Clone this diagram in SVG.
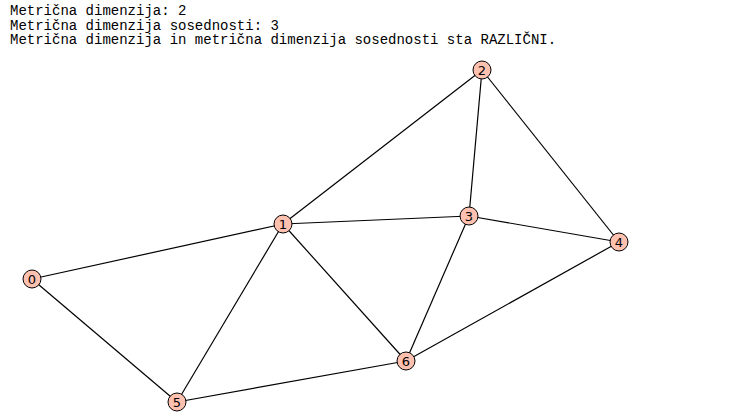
<svg xmlns="http://www.w3.org/2000/svg" width="748" height="416" viewBox="0 0 748 416">
<style>
.t{font-family:"Liberation Mono","Courier New",monospace;font-size:14px;fill:#000}
.e{stroke:#000;stroke-width:1.2;fill:none}
.n circle{fill:#fec1b0;stroke:#000;stroke-width:1}
.n text{font-family:"DejaVu Sans",sans-serif;font-size:13px;text-anchor:middle;dominant-baseline:central;fill:#000}
</style>
<rect width="748" height="416" fill="#fff"/>
<g id="text">
<text class="t" x="10" y="15">Metrična dimenzija: 2</text>
<text class="t" x="10" y="29.5">Metrična dimenzija sosednosti: 3</text>
<text class="t" x="10" y="44">Metrična dimenzija in metrična dimenzija sosednosti sta RAZLIČNI.</text>
</g>
<g id="edges" class="e">
<line x1="32" y1="279" x2="283" y2="224"/>
<line x1="32" y1="279" x2="177" y2="402"/>
<line x1="283" y1="224" x2="482" y2="70"/>
<line x1="283" y1="224" x2="469" y2="216"/>
<line x1="283" y1="224" x2="177" y2="402"/>
<line x1="283" y1="224" x2="406" y2="361"/>
<line x1="482" y1="70" x2="469" y2="216"/>
<line x1="482" y1="70" x2="619" y2="242"/>
<line x1="469" y1="216" x2="619" y2="242"/>
<line x1="469" y1="216" x2="406" y2="361"/>
<line x1="619" y1="242" x2="406" y2="361"/>
<line x1="177" y1="402" x2="406" y2="361"/>
</g>
<g id="n0" class="n"><circle cx="32" cy="279" r="9"/><text x="32" y="279">0</text></g>
<g id="n1" class="n"><circle cx="283" cy="224" r="9"/><text x="283" y="224">1</text></g>
<g id="n2" class="n"><circle cx="482" cy="70" r="9"/><text x="482" y="70">2</text></g>
<g id="n3" class="n"><circle cx="469" cy="216" r="9"/><text x="469" y="216">3</text></g>
<g id="n4" class="n"><circle cx="619" cy="242" r="9"/><text x="619" y="242">4</text></g>
<g id="n5" class="n"><circle cx="177" cy="402" r="9"/><text x="177" y="402">5</text></g>
<g id="n6" class="n"><circle cx="406" cy="361" r="9"/><text x="406" y="361">6</text></g>
</svg>
